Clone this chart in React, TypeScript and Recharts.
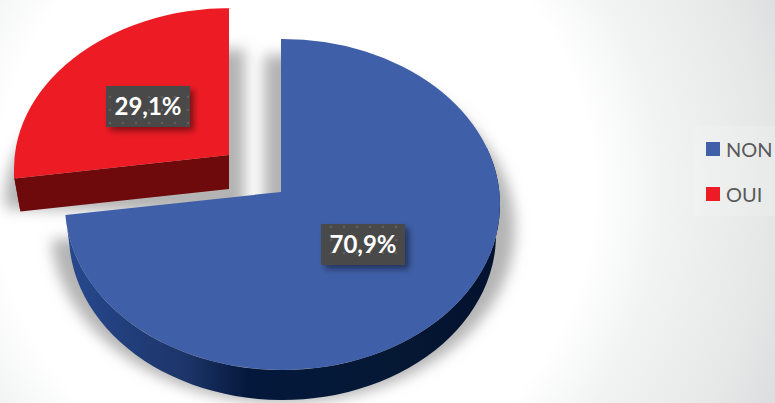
import { Legend, Pie, PieChart } from 'recharts';

const CATEGORIES = ['NON', 'OUI'];
const SHARES = [70.9, 29.1];
const COLORS = ['#3f5fa8', '#ed1c24'];

const WIDTH = 775;
const HEIGHT = 403;
const FONT = 'Lato, "Open Sans", sans-serif';

const rows = CATEGORIES.map((name, i) => ({ name, value: SHARES[i], fill: COLORS[i] }));

// Tilted-disc outline of each exploded slice, drawn around its own apex.
const DISCS: Record<string, any> = {
  NON: {
    apexX: 281, apexY: 192, cx: 282.5, cy: 204.5, rx: 217.5, ry: 165.5,
    depth: 30, taper: 4, side: 'url(#nonSide)', labelX: 363, labelY: 244.5,
    shadow: { apexX: 264, apexY: 222, cx: 283, cy: 229, rx: 232, ry: 174 },
  },
  OUI: {
    apexX: 229, apexY: 155, cx: 231.5, cy: 168.5, rx: 217.5, ry: 160.5,
    depth: 33, taper: 6, side: '#6e0a0c', labelX: 148, labelY: 106.5,
    shadow: { apexX: 245, apexY: 214, cx: 245, cy: 199, rx: 240, ry: 150 },
  },
};

// The tilt squeezes the slice boundary round towards the horizontal
const BOUNDARY = (SHARES[0] / 100) * 360;
const BOUNDARY_ON_DISC = 266.4;

function tiltAngle(deg: number) {
  if (deg <= BOUNDARY) return (deg * BOUNDARY_ON_DISC) / BOUNDARY;
  return BOUNDARY_ON_DISC + ((deg - BOUNDARY) * (360 - BOUNDARY_ON_DISC)) / (360 - BOUNDARY);
}

function onDisc(d: any, disc: number, grow = 0, drop = 0) {
  const a = (disc * Math.PI) / 180;
  return {
    x: d.cx + (d.rx + grow) * Math.sin(a),
    y: d.cy + drop - d.ry * Math.cos(a),
  };
}

function facePath(d: any, from: number, to: number) {
  const a = onDisc(d, from);
  const b = onDisc(d, to);
  const large = to - from > 180 ? 1 : 0;
  // straight radial edge at 12 o'clock sits directly above the apex
  const lead = from % 360 === 0 ? `L${d.apexX},${a.y} ` : '';
  const tail = to % 360 === 0 ? ` L${d.apexX},${b.y}` : '';
  return `M${d.apexX},${d.apexY} ${lead}L${a.x},${a.y} A${d.rx},${d.ry} 0 ${large} 1 ${b.x},${b.y}${tail} Z`;
}

// Only the front half of the rim faces the viewer
function rimPath(d: any, from: number, to: number) {
  const start = Math.max(from, 70);
  const end = Math.min(to, 270);
  if (end <= start) return null;
  const a = onDisc(d, start);
  const b = onDisc(d, end);
  const c = onDisc(d, end, -d.taper, d.depth);
  const e = onDisc(d, start, -d.taper, d.depth);
  const large = end - start > 180 ? 1 : 0;
  return `M${a.x},${a.y} A${d.rx},${d.ry} 0 ${large} 1 ${b.x},${b.y} L${c.x},${c.y} A${d.rx - d.taper},${d.ry} 0 ${large} 0 ${e.x},${e.y} Z`;
}

function sliceRange(props: any) {
  return [tiltAngle(90 - props.startAngle), tiltAngle(90 - props.endAngle)];
}

function SliceShadow(props: any) {
  const d = DISCS[props.name];
  const [from, to] = sliceRange(props);
  return <path d={facePath(d.shadow, from, to)} fill="#b4b4b4" filter="url(#softShadow)" />;
}

function Slice(props: any) {
  const d = DISCS[props.name];
  const [from, to] = sliceRange(props);
  const rim = rimPath(d, from, to);
  const edge = onDisc(d, from);
  const edgeLow = onDisc(d, from, -d.taper, d.depth);
  return (
    <g>
      {rim && <path d={rim} fill={d.side} />}
      {from > 180 && (
        <path
          d={`M${d.apexX},${d.apexY} L${edge.x},${edge.y} L${edgeLow.x},${edgeLow.y} L${d.apexX},${d.apexY + d.depth + 1} Z`}
          fill={d.side}
        />
      )}
      <path d={facePath(d, from, to)} fill={props.fill} />
    </g>
  );
}

function ShareLabel(props: any) {
  const d = DISCS[props.name];
  const text = `${props.value.toFixed(1).replace('.', ',')}%`;
  return (
    <g>
      <rect x={d.labelX - 42} y={d.labelY - 20.5} width={84} height={41} fill="#484848" filter="url(#boxShadow)" />
      <rect x={d.labelX - 42} y={d.labelY - 20.5} width={84} height={41} fill="url(#boxDots)" />
      <text
        x={d.labelX}
        y={d.labelY + 8.5}
        textAnchor="middle"
        fontFamily={FONT}
        fontWeight={700}
        fontSize={24}
        fill="#ffffff"
      >
        {text}
      </text>
    </g>
  );
}

// Both pies report to the legend, so keep one entry per category
function LegendList({ payload }: any) {
  const items = CATEGORIES.map((name) => (payload ?? []).find((p: any) => p.value === name)).filter(Boolean);
  return (
    <div
      style={{
        fontFamily: FONT,
        fontSize: 20,
        color: '#595959',
        background: 'rgba(255,255,255,0.15)',
        paddingLeft: 12,
      }}
    >
      {items.map((item: any) => (
        <div key={item.value} style={{ display: 'flex', alignItems: 'center', height: 45 }}>
          <span style={{ width: 14, height: 14, marginRight: 6, background: item.color }} />
          {item.value}
        </div>
      ))}
    </div>
  );
}

export default function App() {
  return (
    <div
      style={{
        position: 'absolute',
        left: 0,
        top: 0,
        width: WIDTH,
        height: HEIGHT,
        overflow: 'hidden',
        background:
          'radial-gradient(circle at 295px 190px, #ffffff 0, #ffffff 300px, #f2f3f3 365px, #e6e8e8 470px, #dadcdd 530px)',
      }}
    >
      <PieChart width={WIDTH} height={HEIGHT} margin={{ top: 0, right: 0, bottom: 0, left: 0 }}>
        <defs>
          <linearGradient id="nonSide" gradientUnits="userSpaceOnUse" x1="66" y1="0" x2="500" y2="0">
            <stop offset="0" stopColor="#27498f" />
            <stop offset="0.28" stopColor="#1c3468" />
            <stop offset="0.42" stopColor="#04183c" />
            <stop offset="0.75" stopColor="#051834" />
            <stop offset="1" stopColor="#03122e" />
          </linearGradient>
          <filter id="softShadow" x="-20%" y="-20%" width="140%" height="140%">
            <feGaussianBlur stdDeviation="7" />
          </filter>
          <filter id="boxShadow" x="-20%" y="-30%" width="140%" height="170%">
            <feDropShadow dx="4" dy="4" stdDeviation="3" floodColor="#000000" floodOpacity="0.45" />
          </filter>
          <pattern id="boxDots" width="13" height="13" patternUnits="userSpaceOnUse">
            <circle cx="6" cy="6" r="1.3" fill="#5e5e5e" />
          </pattern>
        </defs>
        <Pie
          data={rows}
          dataKey="value"
          nameKey="name"
          cx={281}
          cy={192}
          outerRadius={160}
          startAngle={90}
          endAngle={-270}
          stroke="none"
          legendType="none"
          shape={SliceShadow}
          isAnimationActive={false}
        />
        <Pie
          data={rows}
          dataKey="value"
          nameKey="name"
          cx={281}
          cy={192}
          outerRadius={160}
          startAngle={90}
          endAngle={-270}
          stroke="none"
          shape={Slice}
          label={ShareLabel}
          labelLine={false}
          isAnimationActive={false}
        />
        <Legend
          layout="vertical"
          content={LegendList}
          wrapperStyle={{ position: 'absolute', left: 694, top: 126, width: 81 }}
        />
      </PieChart>
    </div>
  );
}
